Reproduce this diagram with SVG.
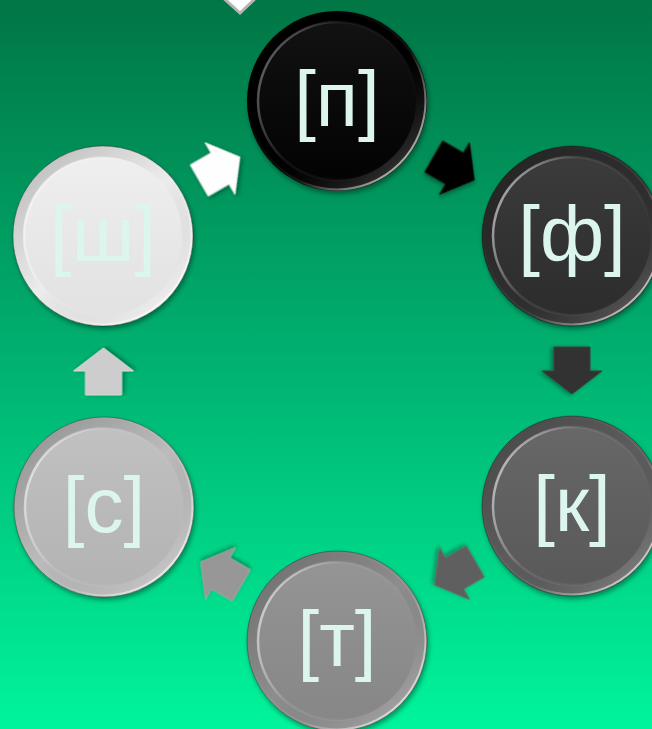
<svg xmlns="http://www.w3.org/2000/svg" width="652" height="729" viewBox="0 0 652 729">
  <defs>
    <linearGradient id="bg" x1="0" y1="0" x2="0" y2="1">
      <stop offset="0" stop-color="#007645"/>
      <stop offset="0.5" stop-color="#00b271"/>
      <stop offset="1" stop-color="#00f59b"/>
    </linearGradient>
    <linearGradient id="rimShade" x1="0.15" y1="0.1" x2="0.85" y2="0.9">
      <stop offset="0" stop-color="#000" stop-opacity="0.18"/>
      <stop offset="0.5" stop-color="#000" stop-opacity="0"/>
      <stop offset="1" stop-color="#fff" stop-opacity="0.2"/>
    </linearGradient>
    <linearGradient id="rimLight" x1="0.2" y1="0.2" x2="0.9" y2="0.8">
      <stop offset="0" stop-color="#fff" stop-opacity="0"/>
      <stop offset="0.6" stop-color="#fff" stop-opacity="0.08"/>
      <stop offset="1" stop-color="#fff" stop-opacity="0.6"/>
    </linearGradient>
    <linearGradient id="faceShade" x1="0" y1="0" x2="0" y2="1">
      <stop offset="0" stop-color="#fff" stop-opacity="0.06"/>
      <stop offset="1" stop-color="#000" stop-opacity="0.05"/>
    </linearGradient>
    <linearGradient id="innerEdge" x1="0" y1="0.3" x2="1" y2="0.7">
      <stop offset="0" stop-color="#fff" stop-opacity="0.6"/>
      <stop offset="0.35" stop-color="#fff" stop-opacity="0.1"/>
      <stop offset="1" stop-color="#fff" stop-opacity="0"/>
    </linearGradient>
    <filter id="shadow" x="-20%" y="-20%" width="140%" height="140%">
      <feDropShadow dx="1.5" dy="3" stdDeviation="2.5" flood-color="#000" flood-opacity="0.4"/>
    </filter>
    <filter id="ashadow" x="-30%" y="-30%" width="160%" height="160%">
      <feDropShadow dx="1" dy="2.5" stdDeviation="2" flood-color="#000" flood-opacity="0.35"/>
    </filter>
    <polygon id="arrow" points="-24,-18 0,-18 0,-30 23,0 0,30 0,18 -24,18"/>
  </defs>
  <style>
    .lbl { font-family: "Liberation Sans", Arial, sans-serif; font-size: 78px; fill: #dcf5ef; text-anchor: middle; }
    .edge { fill: none; stroke: #000; stroke-opacity: 0.3; stroke-width: 1; }
    .arr { filter: url(#ashadow); stroke-width: 1; stroke-linejoin: miter; }
  </style>

  <rect x="0" y="0" width="652" height="729" fill="url(#bg)"/>

  <polygon points="220,-5 240,13 259,-5" fill="#fff" stroke="#b5b5b5" stroke-width="3"/>

  <g id="connectors">
    <use href="#arrow" class="arr" transform="translate(220,168.5) rotate(-30)" fill="#fefefe" stroke="#e2e2e2"/>
    <use href="#arrow" class="arr" transform="translate(454.5,168.5) rotate(30)" fill="#000" stroke="#111"/>
    <use href="#arrow" class="arr" transform="translate(572,371) rotate(90)" fill="#333" stroke="#3c3c3c"/>
    <use href="#arrow" class="arr" transform="translate(454.5,573.5) rotate(150)" fill="#5e5e5e" stroke="#6a6a6a"/>
    <use href="#arrow" class="arr" transform="translate(220.5,573.5) rotate(210)" fill="#979797" stroke="#a3a3a3"/>
    <use href="#arrow" class="arr" transform="translate(103.5,371) rotate(-90)" fill="#cdcdcd" stroke="#d8d8d8"/>
  </g>

  <g id="node-p" transform="translate(337,101)">
    <circle r="90" fill="#000" filter="url(#shadow)"/>
    <circle r="90" fill="url(#rimShade)"/>
    <circle r="88.5" fill="none" stroke="url(#rimLight)" stroke-width="2"/>
    <circle r="79" fill="#030303"/>
    <circle r="79" fill="url(#faceShade)"/>
    <circle r="79" fill="none" stroke="url(#innerEdge)" stroke-width="2.5" opacity="0.6"/>
    <text class="lbl" x="0" y="25">[п]</text>
  </g>

  <g id="node-f" transform="translate(572,236)">
    <circle r="90" fill="#2e2e2e" filter="url(#shadow)"/>
    <circle r="90" fill="url(#rimShade)"/>
    <circle r="88.5" fill="none" stroke="url(#rimLight)" stroke-width="2"/>
    <circle r="90" class="edge"/>
    <circle r="79" fill="#2f2f2f"/>
    <circle r="79" fill="url(#faceShade)"/>
    <circle r="79" fill="none" stroke="url(#innerEdge)" stroke-width="2.5"/>
    <text class="lbl" x="0" y="25">[ф]</text>
  </g>

  <g id="node-k" transform="translate(572,506)">
    <circle r="90" fill="#5c5c5c" filter="url(#shadow)"/>
    <circle r="90" fill="url(#rimShade)"/>
    <circle r="88.5" fill="none" stroke="url(#rimLight)" stroke-width="2"/>
    <circle r="90" class="edge"/>
    <circle r="79" fill="#5e5e5e"/>
    <circle r="79" fill="url(#faceShade)"/>
    <circle r="79" fill="none" stroke="url(#innerEdge)" stroke-width="2.5"/>
    <text class="lbl" x="0" y="25">[к]</text>
  </g>

  <g id="node-t" transform="translate(337,641)">
    <circle r="90" fill="#8d8d8d" filter="url(#shadow)"/>
    <circle r="90" fill="url(#rimShade)"/>
    <circle r="88.5" fill="none" stroke="url(#rimLight)" stroke-width="2"/>
    <circle r="90" class="edge"/>
    <circle r="79" fill="#8e8e8e"/>
    <circle r="79" fill="url(#faceShade)"/>
    <circle r="79" fill="none" stroke="url(#innerEdge)" stroke-width="2.5"/>
    <text class="lbl" x="0" y="25">[т]</text>
  </g>

  <g id="node-s" transform="translate(104,507)">
    <circle r="90" fill="#bbbbbb" filter="url(#shadow)"/>
    <circle r="90" fill="url(#rimShade)"/>
    <circle r="88.5" fill="none" stroke="url(#rimLight)" stroke-width="2"/>
    <circle r="90" class="edge"/>
    <circle r="79" fill="#bdbdbd"/>
    <circle r="79" fill="url(#faceShade)"/>
    <circle r="79" fill="none" stroke="url(#innerEdge)" stroke-width="2.5"/>
    <text class="lbl" x="0" y="25">[с]</text>
  </g>

  <g id="node-sh" transform="translate(103,236)">
    <circle r="90" fill="#ececec" filter="url(#shadow)"/>
    <circle r="90" fill="url(#rimShade)"/>
    <circle r="88.5" fill="none" stroke="url(#rimLight)" stroke-width="2"/>
    <circle r="90" class="edge"/>
    <circle r="79" fill="#eeeeee"/>
    <circle r="79" fill="url(#faceShade)"/>
    <circle r="79" fill="none" stroke="url(#innerEdge)" stroke-width="2.5"/>
    <text class="lbl" x="0" y="25">[ш]</text>
  </g>
</svg>
